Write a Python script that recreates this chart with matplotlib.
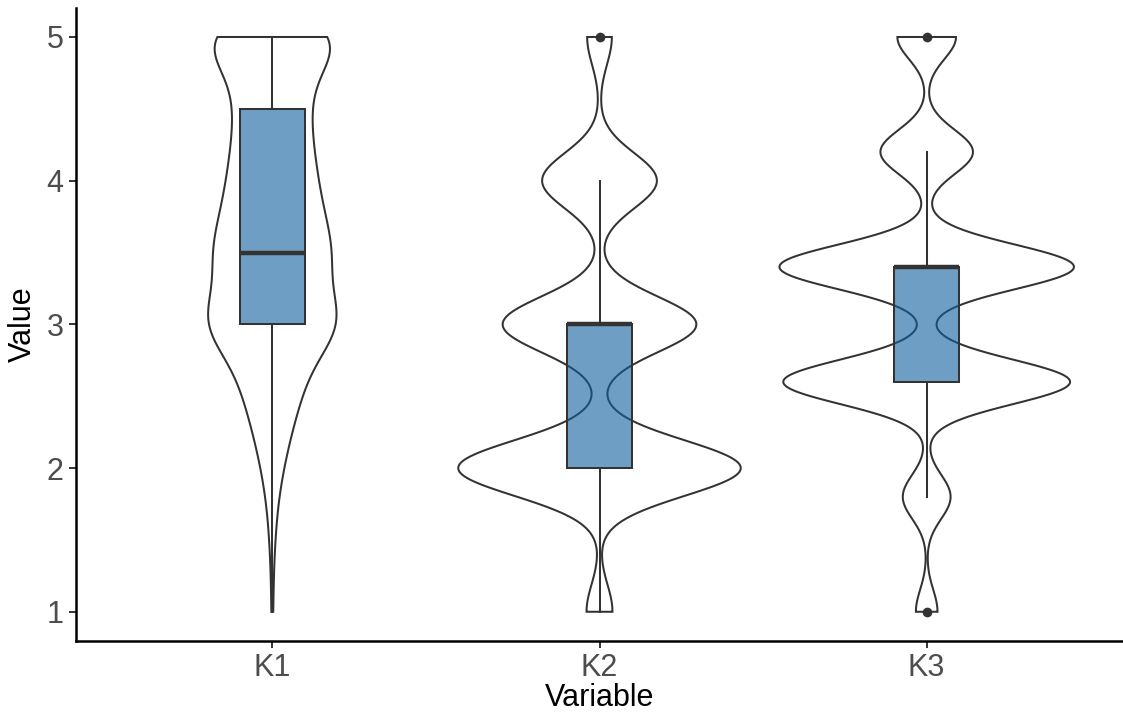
import numpy as np
import matplotlib
matplotlib.use('Agg')
import matplotlib.pyplot as plt
from matplotlib.patches import Rectangle, Polygon

plt.rcParams['font.family'] = ['Liberation Sans', 'DejaVu Sans']

# answers per item: response level and number of respondents on it
categories = ['K1', 'K2', 'K3']

k1_values = [1.0, 1.25, 1.5, 1.75, 2.0, 2.25, 2.5, 2.75, 3.0, 3.25, 3.5, 3.75, 4.0, 4.25, 4.5, 4.75, 5.0]
k1_counts = [2, 2, 5, 9, 19, 33, 50, 68, 135, 88, 110, 88, 78, 69, 64, 69, 151]

k2_values = [1, 2, 3, 4, 5]
k2_counts = [21, 229, 157, 93, 20]

k3_values = [1.0, 1.8, 2.6, 3.4, 4.2, 5.0]
k3_counts = [14, 31, 186, 191, 60, 38]

y_ticks = [1, 2, 3, 4, 5]

samples = [np.repeat(np.array(k1_values, float), k1_counts),
           np.repeat(np.array(k2_values, float), k2_counts),
           np.repeat(np.array(k3_values, float), k3_counts)]

LINE = '#333333'
BOX_FILL = (16 / 255, 94 / 255, 157 / 255, 0.6)


def bw_nrd0(x):
    # same rule as R's bw.nrd0 (used by ggplot's violins)
    q1, q3 = np.percentile(x, [25, 75])
    lo = min(np.std(x, ddof=1), (q3 - q1) / 1.34)
    return 0.9 * lo * len(x) ** -0.2


def kde(x, grid):
    bw = bw_nrd0(x)
    z = (grid[:, None] - x[None, :]) / bw
    return np.exp(-0.5 * z ** 2).sum(axis=1) / (len(x) * bw * np.sqrt(2 * np.pi))


# densities on a trimmed grid, scaled so all violins share one area scale
grids, dens = [], []
for s in samples:
    g = np.linspace(s.min(), s.max(), 512)
    grids.append(g)
    dens.append(kde(s, g))
dmax = max(d.max() for d in dens)

fig = plt.figure(figsize=(11.23, 7.18), dpi=100)
W, H = 1123, 718
ax = fig.add_axes([76 / W, (H - 640.5) / H, (W - 76) / W, (640.5 - 8.25) / H])

for i, (s, g, d) in enumerate(zip(samples, grids, dens)):
    c = i + 1
    hw = 0.45 * d / dmax
    xs = np.concatenate([c + hw, (c - hw)[::-1]])
    ys = np.concatenate([g, g[::-1]])
    ax.add_patch(Polygon(np.column_stack([xs, ys]), closed=True, facecolor='none',
                         edgecolor=LINE, linewidth=1.45, zorder=2))

    q1, med, q3 = np.percentile(s, [25, 50, 75])
    iqr = q3 - q1
    lo_w = s[s >= q1 - 1.5 * iqr].min()
    hi_w = s[s <= q3 + 1.5 * iqr].max()
    out = np.unique(s[(s < q1 - 1.5 * iqr) | (s > q3 + 1.5 * iqr)])

    ax.plot([c, c], [q3, hi_w], color=LINE, linewidth=1.45, zorder=3)
    ax.plot([c, c], [lo_w, q1], color=LINE, linewidth=1.45, zorder=3)
    ax.add_patch(Rectangle((c - 0.1, q1), 0.2, q3 - q1, facecolor=BOX_FILL,
                           edgecolor=LINE, linewidth=1.45, zorder=4))
    ax.plot([c - 0.1, c + 0.1], [med, med], color=LINE, linewidth=3.2,
            solid_capstyle='butt', zorder=5)
    if len(out):
        ax.plot(np.full(len(out), c), out, 'o', color=LINE, markersize=7,
                markeredgewidth=0, zorder=6)

ax.set_xlim(0.4, 3.6)
ax.set_ylim(0.8, 5.2)
ax.set_xticks([1, 2, 3])
ax.set_xticklabels(categories)
ax.set_yticks(y_ticks)
ax.set_yticklabels([str(t) for t in y_ticks])

ax.tick_params(axis='both', length=5, width=1.4, color=LINE, labelsize=22,
               labelcolor='#4d4d4d', pad=4)
for side in ['top', 'right']:
    ax.spines[side].set_visible(False)
for side in ['left', 'bottom']:
    ax.spines[side].set_linewidth(1.8)
    ax.spines[side].set_color('black')

ax.set_ylabel('Value', fontsize=22, va='center')
ax.yaxis.set_label_coords((23 - 76) / 1047, 0.5)
ax.set_xlabel('Variable', fontsize=22, va='center')
ax.xaxis.set_label_coords(0.5, -(698 - 640.5) / 632.25)

fig.savefig('out.png', dpi=100)
